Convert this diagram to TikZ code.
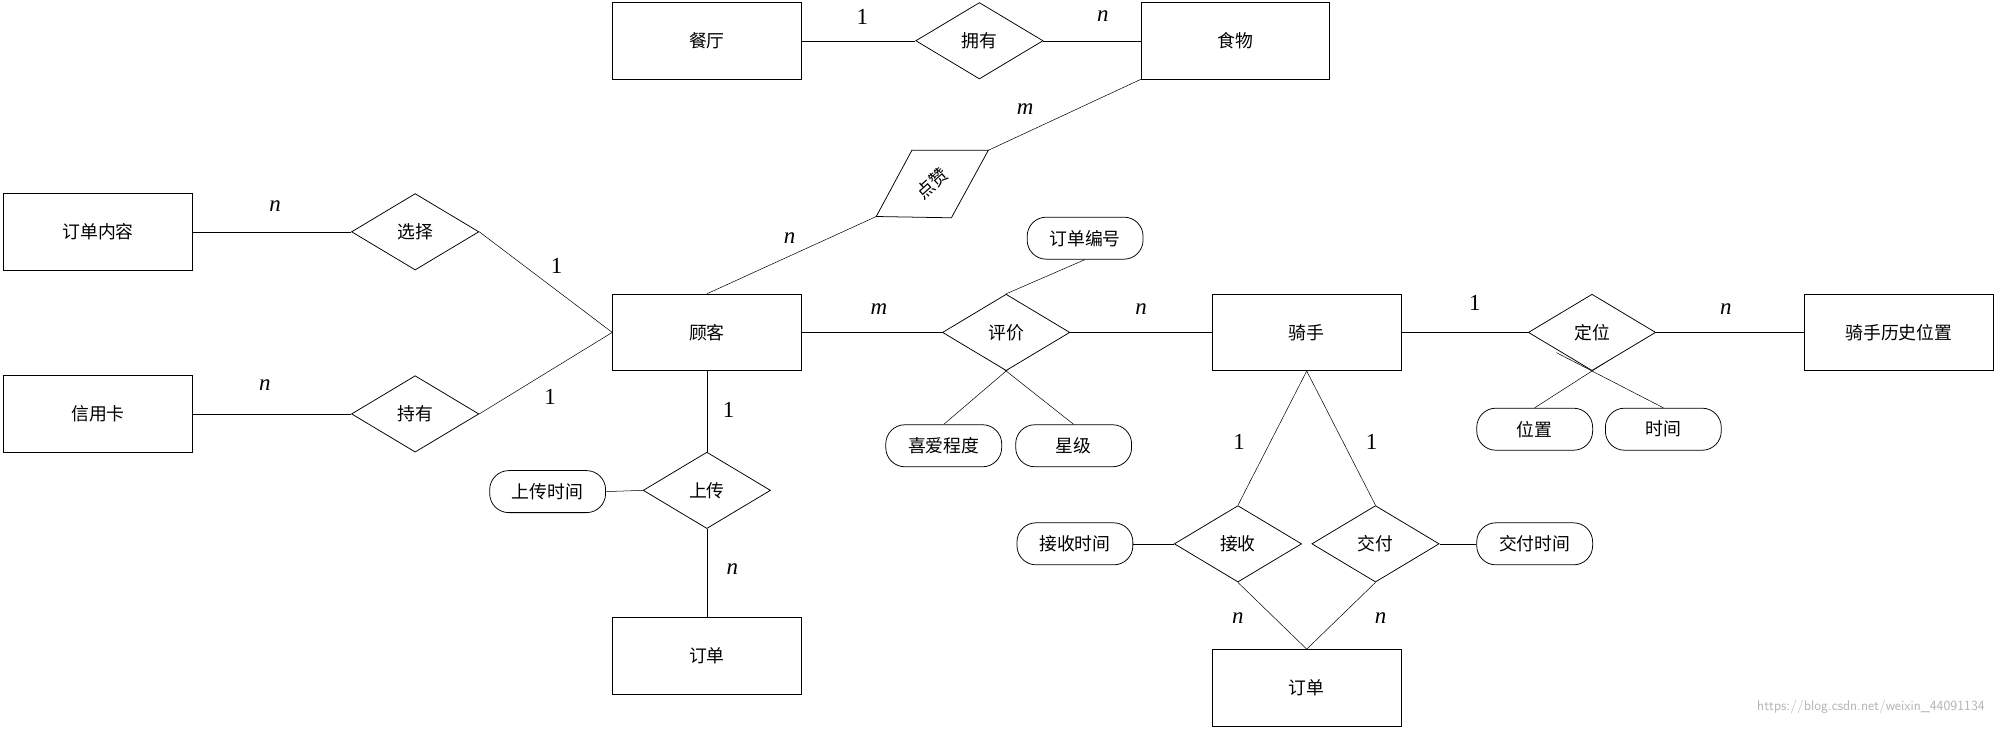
\documentclass[tikz,border=0pt]{standalone}
\usepackage{fontspec}
\setmainfont{Liberation Serif}
\newfontfamily\cjk{Noto Sans CJK SC}
\usetikzlibrary{shapes.geometric,backgrounds,calc}
\begin{document}
\begin{tikzpicture}[x=1pt,y=-1pt,
  ent/.style={draw,fill=white,minimum width=148pt,minimum height=60pt,font=\cjk\fontsize{14}{16}\selectfont,inner sep=0pt},
  rel/.style={draw,fill=white,diamond,aspect=1.67,minimum width=100pt,minimum height=60pt,inner sep=0pt,font=\cjk\fontsize{14}{16}\selectfont},
  att/.style={draw,fill=white,rounded corners=15pt,minimum width=91pt,minimum height=33pt,inner sep=0pt,font=\cjk\fontsize{14}{16}\selectfont},
  lab/.style={font=\fontsize{18}{20}\selectfont},
  line width=0.6pt]
\useasboundingbox (0,0) rectangle (1568,573);
\node[ent] (ct) at (555,32) {餐厅};
\node[ent] (sw) at (970,32) {食物};
\node[ent] (ddnr) at (77,182) {订单内容};
\node[ent] (xyk) at (77,325) {信用卡};
\node[ent] (gk) at (555,261) {顾客};
\node[ent] (qs) at (1026,261) {骑手};
\node[ent] (lswz) at (1491,261) {骑手历史位置};
\node[ent] (dd1) at (555,515) {订单};
\node[ent] (dd2) at (1026,540) {订单};
\node[rel] (yy) at (769,32) {拥有};
\node[rel] (xz) at (326,182) {选择};
\node[rel] (cy) at (326,325) {持有};
\node[rel] (pj) at (790,261) {评价};
\node[rel] (dw) at (1250,261) {定位};
\node[rel] (sc) at (555,385) {上传};
\node[rel] (js) at (972,427) {接收};
\node[rel] (jf) at (1080,427) {交付};
\coordinate (dzl) at (688,170);
\coordinate (dzr) at (776,118);
\draw[fill=white] (dzl) -- (716,118) -- (dzr) -- (747,171) -- cycle;
\node[font=\cjk\fontsize{14}{16}\selectfont,rotate=42] (dz) at (732,144) {点赞};
\node[att] (ddbh) at (852,187) {订单编号};
\node[att] (axcd) at (741,350) {喜爱程度};
\node[att] (xj) at (843,350) {星级};
\node[att] (wz) at (1205,337) {位置};
\node[att] (sj) at (1306,337) {时间};
\node[att] (scsj) at (430,386) {上传时间};
\node[att] (jssj) at (844,427) {接收时间};
\node[att] (jfsj) at (1205,427) {交付时间};
\begin{scope}[on background layer]
\draw (ct) -- (yy) -- (sw);
\draw (ddnr) -- (xz.west);
\draw (xyk) -- (cy.west);
\draw (xz.east) -- (gk.west) -- (cy.east);
\draw (gk) -- (pj) -- (qs) -- (dw) -- (lswz);
\draw (pj.north) -- (ddbh.south);
\draw (axcd.north) -- ($(axcd.north)!1.5!(pj.south)$);
\draw (xj.north) -- ($(xj.north)!1.5!(pj.south)$);
\draw (wz.north) -- ($(wz.north)!1.5!(dw.south)$);
\draw (sj.north) -- ($(sj.north)!1.5!(dw.south)$);
\draw (gk.south) -- (sc.north);
\draw (sc.south) -- (dd1.north);
\draw (scsj.east) -- (sc.west);
\draw (qs.south) -- (js.north);
\draw (qs.south) -- (jf.north);
\draw (js.south) -- (dd2.north);
\draw (jf.south) -- (dd2.north);
\draw (jssj) -- (js);
\draw (jf) -- (jfsj);
\draw (gk.north) -- (dzl);
\draw (dzr) -- (sw.south west);
\end{scope}
\node[lab] at (677,13) {1};
\node[lab] at (866,13) {\textit{n}};
\node[lab] at (805,86) {\textit{m}};
\node[lab] at (620,187) {\textit{n}};
\node[lab] at (216,162) {\textit{n}};
\node[lab] at (437,209) {1};
\node[lab] at (208,302) {\textit{n}};
\node[lab] at (432,312) {1};
\node[lab] at (690,243) {\textit{m}};
\node[lab] at (896,243) {\textit{n}};
\node[lab] at (572,322) {1};
\node[lab] at (575,447) {\textit{n}};
\node[lab] at (1158,238) {1};
\node[lab] at (1355,243) {\textit{n}};
\node[lab] at (973,347) {1};
\node[lab] at (1077,347) {1};
\node[lab] at (972,485) {\textit{n}};
\node[lab] at (1084,485) {\textit{n}};
\node[text=gray!60,font=\sffamily\fontsize{11}{12}\selectfont,anchor=east] at (1562,555) {https://blog.csdn.net/weixin\_44091134};
\end{tikzpicture}
\end{document}
